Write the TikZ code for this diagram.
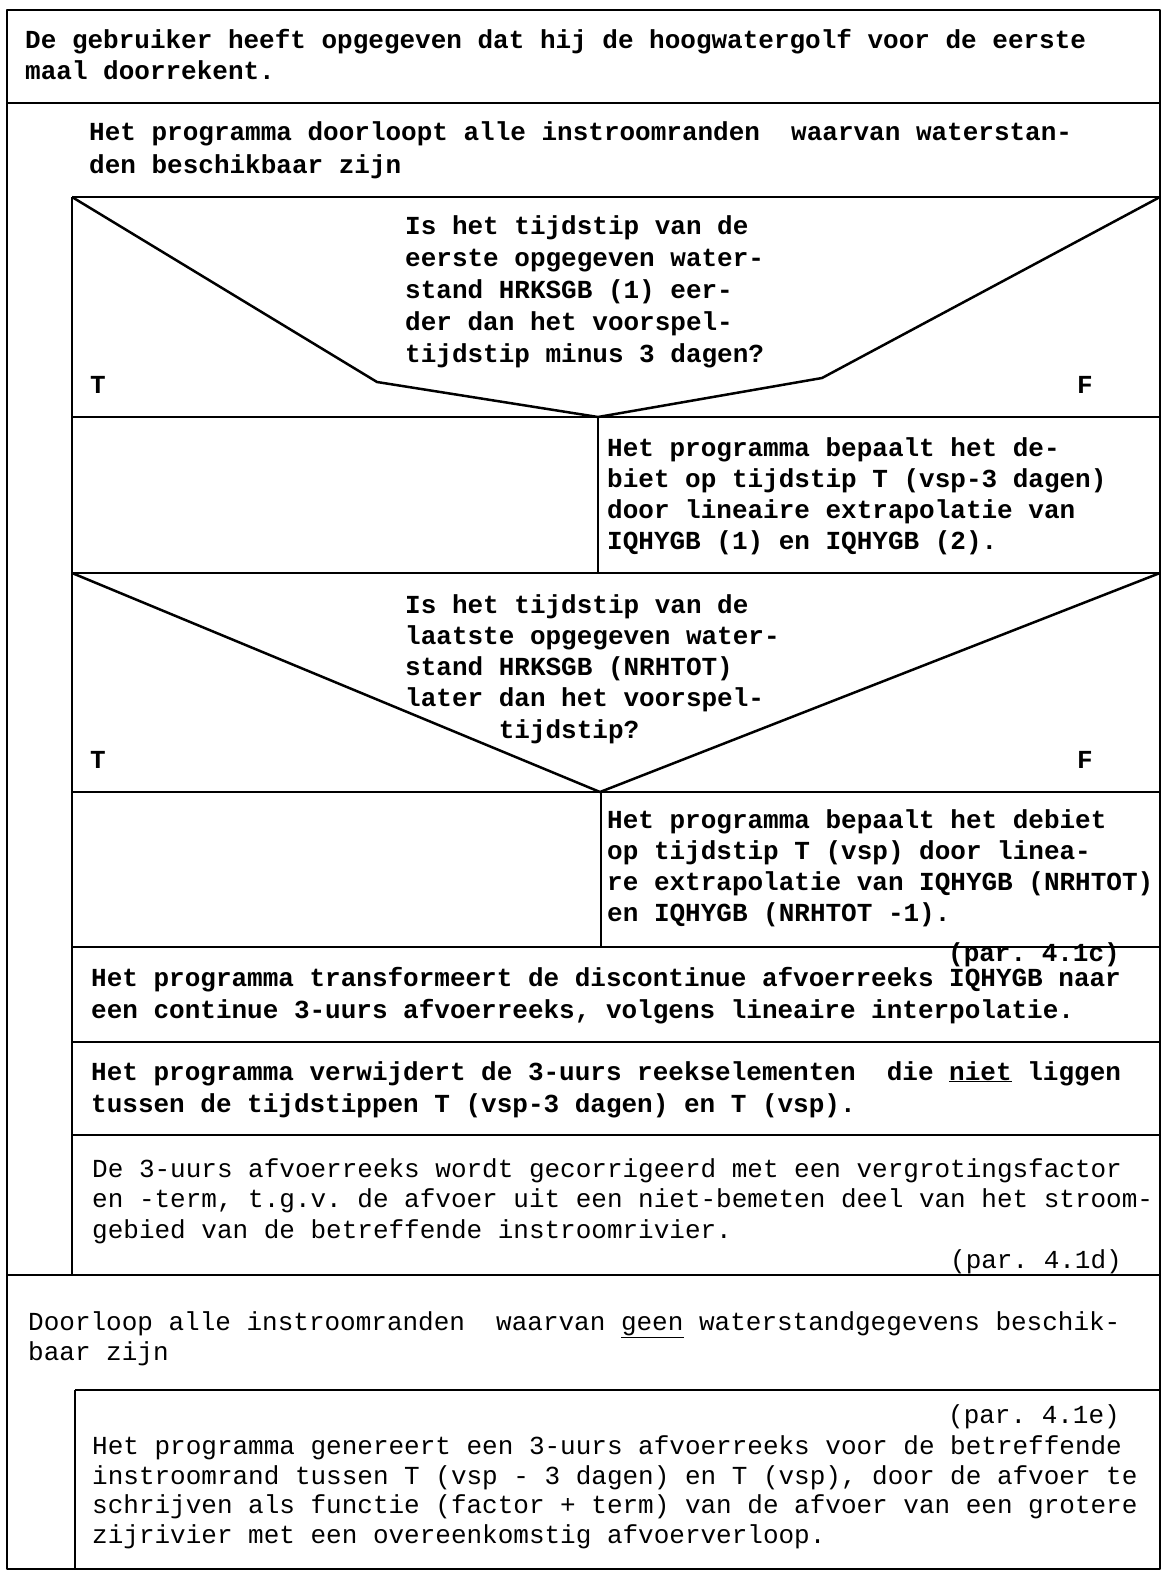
\documentclass[tikz,border=0pt]{standalone}
\usepackage{fontspec}
\setmonofont{Liberation Mono}

\begin{document}
\begin{tikzpicture}[x=1pt, y=-1pt,
  rule/.style = {line width=2.5pt, line join=round},
  % multi-line nodes: base = baseline of the last line
  txt/.style = {anchor=base west, inner sep=0pt, align=left,
                font=\ttfamily\bfseries\fontsize{26}{31.5}\selectfont},
  lighttxt/.style = {txt, font=\ttfamily\fontsize{26}{30}\selectfont}]
\useasboundingbox (0,0) rectangle (1163,1571);

% frame of the structure diagram
\draw[rule] (7,10) rectangle (1160,1569);
\draw[rule] (7,103) -- (1160,103);
\draw[rule] (72,197) -- (72,1275);
\draw[rule] (72,197) -- (1160,197);
% first choice
\draw[rule] (72,197) -- (377,382) -- (598,417) -- (822,378) -- (1160,197);
\draw[rule] (72,417) -- (1160,417);
\draw[rule] (598,417) -- (598,573);
\draw[rule] (72,573) -- (1160,573);
% second choice
\draw[rule] (72,573) -- (600,792) -- (1160,573);
\draw[rule] (72,792) -- (1160,792);
\draw[rule] (601,792) -- (601,947);
\draw[rule] (72,947) -- (1160,947);
\draw[rule] (72,1042) -- (1160,1042);
\draw[rule] (72,1135) -- (1160,1135);
\draw[rule] (7,1275) -- (1160,1275);
% second loop
\draw[rule] (75,1390) -- (1160,1390);
\draw[rule] (75,1390) -- (75,1569);

\node[txt, font=\ttfamily\bfseries\fontsize{26}{32}\selectfont] (init) at (25,80)
  {De gebruiker heeft opgegeven dat hij de hoogwatergolf voor de eerste\\maal doorrekent.};
\node[txt, font=\ttfamily\bfseries\fontsize{26}{33}\selectfont] (loopa) at (89,173)
  {Het programma doorloopt alle instroomranden~ waarvan waterstan-\\den beschikbaar zijn};

\node[txt, font=\ttfamily\bfseries\fontsize{26}{31.8}\selectfont] (conda) at (405,362)
  {Is het tijdstip van de\\eerste opgegeven water-\\stand HRKSGB (1) eer-\\der dan het voorspel-\\tijdstip minus 3 dagen?};
\node[txt] (ta) at (90,393) {T};
\node[txt] (fa) at (1077,393) {F};
\node[txt, font=\ttfamily\bfseries\fontsize{26}{31}\selectfont] (acta) at (607,549)
  {Het programma bepaalt het de-\\biet op tijdstip T (vsp-3 dagen)\\door lineaire extrapolatie van\\IQHYGB (1) en IQHYGB (2).};

\node[txt, font=\ttfamily\bfseries\fontsize{26}{31.2}\selectfont] (condb) at (405,738)
  {Is het tijdstip van de\\laatste opgegeven water-\\stand HRKSGB (NRHTOT)\\later dan het voorspel-\\~~~~~~tijdstip?};
\node[txt] (tb) at (90,768) {T};
\node[txt] (fb) at (1077,768) {F};
\node[txt, font=\ttfamily\bfseries\fontsize{26}{30.8}\selectfont] (actb) at (607,921)
  {Het programma bepaalt het debiet\\op tijdstip T (vsp) door linea-\\re extrapolatie van IQHYGB (NRHTOT)\\en IQHYGB (NRHTOT -1).};

\node[txt, anchor=base east] (parc) at (1120,961) {(par. 4.1c)};
\node[txt] (trans) at (91,1018)
  {Het programma transformeert de discontinue afvoerreeks IQHYGB naar\\een continue 3-uurs afvoerreeks, volgens lineaire interpolatie.};
\node[txt, font=\ttfamily\bfseries\fontsize{26}{32}\selectfont] (remove) at (91,1112)
  {Het programma verwijdert de 3-uurs reekselementen~ die \underline{niet} liggen\\tussen de tijdstippen T (vsp-3 dagen) en T (vsp).};
\node[lighttxt, font=\ttfamily\fontsize{26}{30.5}\selectfont] (corr) at (92,1238)
  {De 3-uurs afvoerreeks wordt gecorrigeerd met een vergrotingsfactor\\en -term, t.g.v. de afvoer uit een niet-bemeten deel van het stroom-\\gebied van de betreffende instroomrivier.};
\node[lighttxt, anchor=base east] (pard) at (1122,1268) {(par. 4.1d)};

\node[lighttxt] (loopb) at (28,1360)
  {Doorloop alle instroomranden~ waarvan \underline{geen} waterstandgegevens beschik-\\baar zijn};
\node[lighttxt, anchor=base east] (pare) at (1120,1423) {(par. 4.1e)};
\node[lighttxt, font=\ttfamily\fontsize{26}{29.5}\selectfont] (gen) at (92,1543)
  {Het programma genereert een 3-uurs afvoerreeks voor de betreffende\\instroomrand tussen T (vsp - 3 dagen) en T (vsp), door de afvoer te\\schrijven als functie (factor + term) van de afvoer van een grotere\\zijrivier met een overeenkomstig afvoerverloop.};
\end{tikzpicture}
\end{document}
